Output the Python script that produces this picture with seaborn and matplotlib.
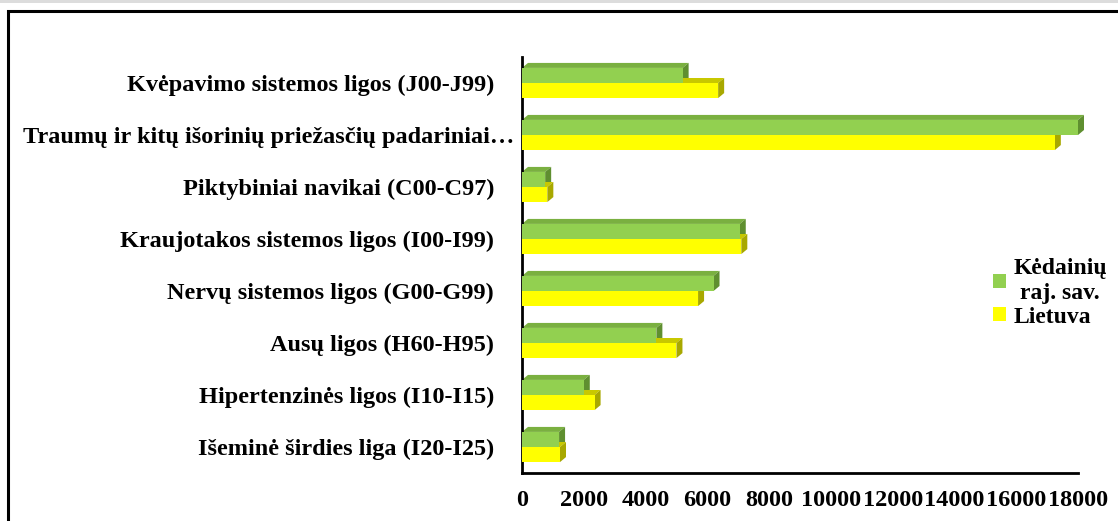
import numpy as np
import pandas as pd
import seaborn as sns
import matplotlib.pyplot as plt
from matplotlib.patches import Polygon, Rectangle, Patch
from matplotlib.transforms import ScaledTranslation

# data
categories = [
    "Kvėpavimo sistemos ligos (J00-J99)",
    "Traumų ir kitų išorinių priežasčių padariniai…",
    "Piktybiniai navikai (C00-C97)",
    "Kraujotakos sistemos ligos (I00-I99)",
    "Nervų sistemos ligos (G00-G99)",
    "Ausų ligos (H60-H95)",
    "Hipertenzinės ligos (I10-I15)",
    "Išeminė širdies liga (I20-I25)",
]
kedainiai = [5200, 18000, 750, 7050, 6200, 4350, 2000, 1200]
lietuva = [6350, 17250, 820, 7100, 5700, 5000, 2350, 1230]
series = ["Kėdainių\nraj. sav.", "Lietuva"]
xticks = list(range(0, 18001, 2000))

df = pd.DataFrame({"cat": categories, series[0]: kedainiai, series[1]: lietuva})
df = df.melt(id_vars="cat", var_name="serie", value_name="val")

front = {series[0]: "#92D050", series[1]: "#FFFF00"}
top_c = {series[0]: "#7AB040", series[1]: "#C8C800"}
side_c = {series[0]: "#5F8F30", series[1]: "#A8A800"}

sns.set_style("white")
plt.rcParams["font.family"] = ["Liberation Serif", "DejaVu Serif"]
plt.rcParams["text.color"] = "black"
plt.rcParams["xtick.color"] = "black"
plt.rcParams["ytick.color"] = "black"

fig = plt.figure(figsize=(11.18, 5.21), dpi=100)
ax = fig.add_axes([522 / 1118, 1 - 473 / 521, (1078 - 522) / 1118, (473 - 57) / 521])

sns.barplot(data=df, y="cat", x="val", hue="serie", orient="h",
            palette=front, width=0.58, ax=ax, legend=False,
            saturation=1, zorder=3, linewidth=0, edgecolor="none")

ax.set_xlim(0, 18000)
ax.set_ylim(7.5, -0.5)

# fake 3D depth: top and right faces
dx = 6 * 18000 / 556
dy = 5 * 8 / 416
for i, p in enumerate(ax.patches):
    s = series[0] if i < len(categories) else series[1]
    x0, y0 = p.get_x(), p.get_y()
    w, h = p.get_width(), p.get_height()
    y_top, y_bot = y0, y0 + h
    topface = Polygon([(x0, y_top), (x0 + dx, y_top - dy), (x0 + w + dx, y_top - dy), (x0 + w, y_top)],
                      closed=True, facecolor=top_c[s], edgecolor="none", zorder=2, clip_on=False)
    sideface = Polygon([(x0 + w, y_top), (x0 + w + dx, y_top - dy), (x0 + w + dx, y_bot - dy), (x0 + w, y_bot)],
                       closed=True, facecolor=side_c[s], edgecolor="none", zorder=2, clip_on=False)
    ax.add_patch(topface)
    ax.add_patch(sideface)
    p.set_clip_on(False)

for sp in ["top", "right"]:
    ax.spines[sp].set_visible(False)
for sp in ["left", "bottom"]:
    ax.spines[sp].set_color("black")
    ax.spines[sp].set_linewidth(2)

ax.set_xticks(xticks)
ax.set_xticklabels([str(t) for t in xticks])
ax.tick_params(axis="x", length=0, pad=12, labelsize=17.5)
ax.tick_params(axis="y", length=0, pad=20, labelsize=17.5)
for t in ax.get_xticklabels() + ax.get_yticklabels():
    t.set_fontweight("bold")
# the long truncated label runs right up to the axis line
long_lbl = ax.get_yticklabels()[1]
long_lbl.set_transform(long_lbl.get_transform() + ScaledTranslation(0.2, 0, fig.dpi_scale_trans))
ax.set_xlabel("")
ax.set_ylabel("")

handles = [Patch(facecolor=front[s], edgecolor="none") for s in series]
leg = fig.legend(handles, series, loc="center left", bbox_to_anchor=(972 / 1118, 1 - 293 / 521),
                 frameon=False, handlelength=0.55, handleheight=0.55, handletextpad=0.3,
                 labelspacing=0.12, prop={"weight": "bold", "size": 17})
for t in leg.get_texts():
    t.set_multialignment("center")

# outer chart frame and grey strip at top
fig.patches.append(Rectangle((0, 1 - 3 / 521), 1, 3 / 521, transform=fig.transFigure,
                             facecolor="#dcdcdc", edgecolor="none", zorder=0))
fig.patches.append(Rectangle((8 / 1118, -0.1), 1.2, 1.1 - 11 / 521, transform=fig.transFigure,
                             facecolor="none", edgecolor="black", linewidth=2.2, zorder=1))

fig.savefig("out.png", dpi=100)
